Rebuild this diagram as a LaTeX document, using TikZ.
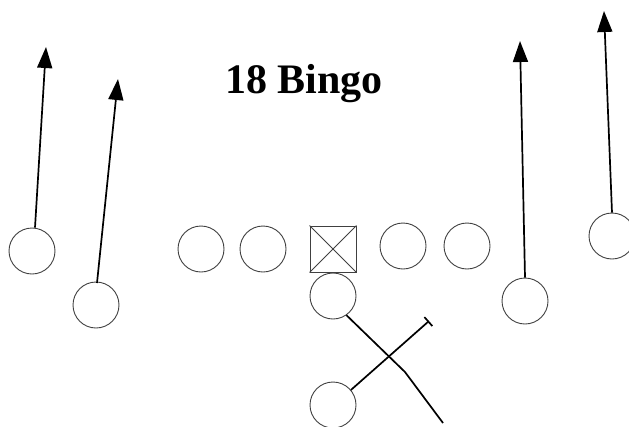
\documentclass[tikz,border=0pt]{standalone}
\usepackage{fontspec}
\setmainfont{Liberation Serif}
\usetikzlibrary{arrows.meta}
\begin{document}
\begin{tikzpicture}[x=1pt,y=-1pt,
  player/.style={circle,draw=black!75,line width=0.9pt,minimum size=46pt,inner sep=0pt},
  center/.style={rectangle,draw=black!75,line width=0.9pt,minimum size=46pt,inner sep=0pt},
  route/.style={line width=1.7pt,-{Triangle[length=21pt,width=15pt]}},
  block/.style={line width=1.7pt,-{Bar[width=12pt]}},
  path/.style={line width=1.7pt}]
\useasboundingbox (0,0) rectangle (629,426);
\node[font=\bfseries\fontsize{42}{42}\selectfont,anchor=base] (title) at (304,93) {18 Bingo};
% receivers
\node[player] (x) at (32,251) {};
\node[player] (s) at (96,305) {};
\node[player] (t) at (525,301) {};
\node[player] (z) at (612,236) {};
% line
\node[player] (lt) at (201,249) {};
\node[player] (lg) at (263,249) {};
\node[center] (c) at (333,249) {};
\draw[black!75,line width=0.9pt] (c.north west) -- (c.south east) (c.north east) -- (c.south west);
\node[player] (rg) at (403,246) {};
\node[player] (rt) at (467,246) {};
% backs
\node[player] (qb) at (333,296) {};
\node[player] (rb) at (333,405) {};
% routes
\coordinate (xe) at (46,47);
\coordinate (se) at (118,79);
\coordinate (te) at (520,41);
\coordinate (ze) at (604,11);
\draw[route] (x.north) ++(3,0) -- (xe);
\draw[route] (s) ++(1,-22) -- (se);
\draw[route] (t.north) -- (te);
\draw[route] (z.north) -- (ze);
% QB drop and RB block
\coordinate (q1) at (405,372);
\coordinate (q2) at (443,423);
\draw[path] (qb.-55) -- (q1) -- (q2);
\coordinate (rbe) at (429,321);
\draw[block] (rb.40) -- (rbe);
\end{tikzpicture}
\end{document}
